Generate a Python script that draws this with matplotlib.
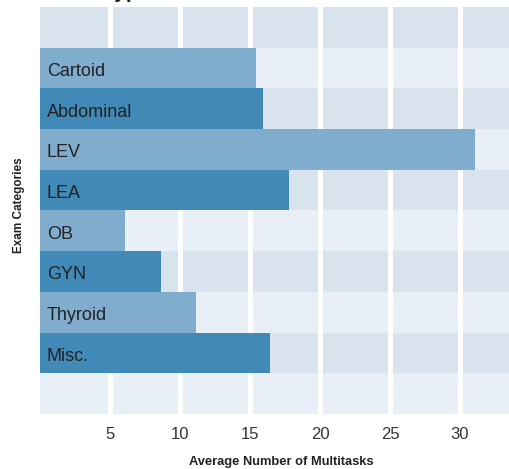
import numpy as np
import matplotlib.pyplot as plt

# exam categories and average number of multitasks
categories = ['Cartoid', 'Abdominal', 'LEV', 'LEA', 'OB', 'GYN', 'Thyroid', 'Misc.']
values = [15.45, 15.9, 31.1, 17.75, 6.1, 8.65, 11.15, 16.45]
xticks = [5, 10, 15, 20, 25, 30]

light_bar = '#80acce'
dark_bar = '#418ab8'
light_bg = '#e8eff7'
dark_bg = '#d8e3ee'

plt.rcParams['font.family'] = ['Liberation Sans', 'DejaVu Sans']

fig = plt.figure(figsize=(5.09, 4.69), dpi=100)
ax = fig.add_axes([40/509, 55/469, 469/509, 407/469])

nslot = len(categories) + 2
# alternating background bands, one per slot (empty slot above and below)
for i in range(nslot):
    ax.axhspan(i - 0.5, i + 0.5, color=dark_bg if i % 2 == 0 else light_bg, lw=0, zorder=0)

for xt in xticks:
    ax.axvline(xt, color='white', lw=3.6, zorder=1)

ypos = np.arange(1, len(categories) + 1)
cols = [light_bar if i % 2 == 0 else dark_bar for i in range(len(categories))]
ax.barh(ypos, values, height=1.0, color=cols, lw=0, zorder=2)
for y, lab in zip(ypos, categories):
    ax.text(0.5, y + 0.08, lab, va='center', ha='left', fontsize=13, color='#222222', zorder=3)

ax.set_xlim(0, 469/14.0)
ax.set_ylim(nslot - 0.5, -0.5)
ax.set_xticks(xticks)
ax.set_xticklabels([str(x) for x in xticks], fontsize=12, color='#333333')
ax.set_yticks([])
ax.tick_params(axis='x', length=0, pad=9)
for s in ax.spines.values():
    s.set_visible(False)

fig.text(281/509, 1 - 462/469, 'Average Number of Multitasks', ha='center', va='center',
         fontsize=9.3, fontweight='bold', color='#222222')
fig.text(19/509, 1 - 205/469, 'Exam Categories', ha='center', va='center', rotation=90,
         fontsize=8.5, fontweight='bold', color='#222222')
# title is mostly cut off at the top of the picture
fig.text(104/509, 1 + 2/469, 'Type', ha='left', va='baseline', fontsize=15,
         fontweight='bold', color='#222222')

fig.savefig('out.png', dpi=100)
